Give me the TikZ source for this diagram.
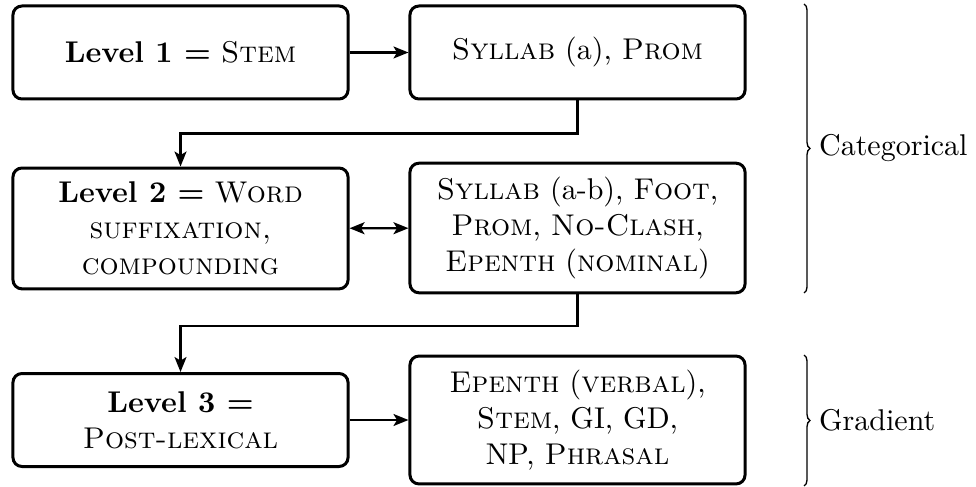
\documentclass[tikz,border=0pt]{standalone}
\usetikzlibrary{arrows.meta,decorations.pathreplacing}

\tikzset{
  levelbox/.style={draw, line width=1pt, rounded corners=3pt, align=center,
    minimum width=111.7pt, minimum height=31pt, inner xsep=4pt, inner ysep=4.6pt,
    font=\normalsize},
  tip/.style={},
  conn/.style={line width=0.7pt, -{Stealth[length=5pt,width=4pt,inset=1.2pt]}},
  dconn/.style={line width=0.7pt, {Stealth[length=5pt,width=4pt,inset=1.2pt]}-{Stealth[length=5pt,width=4pt,inset=1.2pt]}},
  grouping/.style={line width=0.45pt, decorate, decoration={brace, amplitude=2pt}},
  grouplabel/.style={anchor=west, inner sep=0pt, xshift=4.8pt}
}

\begin{document}
\begin{tikzpicture}
  \useasboundingbox (0,0) rectangle (325.33pt,-162.33pt);

  % level boxes (left) and the processes active at each level (right)
  \node[levelbox] (l1) at (60.17pt,-17.5pt)  {\textbf{Level 1 =} \textsc{Stem}};
  \node[levelbox] (p1) at (192.5pt,-17.5pt)  {\textsc{Syllab} (a), \textsc{Prom}};

  \node[levelbox] (l2) at (60.17pt,-76.15pt) {\textbf{Level 2 =} \textsc{Word}\\ \textsc{suffixation,}\\ \textsc{compounding}};
  \node[levelbox] (p2) at (192.5pt,-76.0pt)  {\textsc{Syllab} (a-b), \textsc{Foot},\\ \textsc{Prom}, \textsc{No-Clash},\\ \textsc{Epenth} (\textsc{nominal})};

  \node[levelbox] (l3) at (60.17pt,-140pt)   {\textbf{Level 3 =}\\ \textsc{Post-lexical}};
  \node[levelbox] (p3) at (192.5pt,-140pt)   {\textsc{Epenth} (\textsc{verbal}),\\ \textsc{Stem}, GI, GD,\\ NP, \textsc{Phrasal}};

  % connectors
  \draw[conn] (l1) -- (p1);
  \draw[conn] (p1.south) -- ++(0,-11pt) -| (l2.north);
  \draw[dconn] (l2) -- (p2);
  \draw[conn] (p2.south) -- ++(0,-10.7pt) -| (l3.north);
  \draw[conn] (l3) -- (p3);

  % grouping braces
  \coordinate (c1top) at (268pt,-1.33pt);
  \coordinate (c1bot) at (268pt,-97.67pt);
  \coordinate (c2top) at (268pt,-118.33pt);
  \coordinate (c2bot) at (268pt,-162pt);
  \draw[grouping] (c1top) -- (c1bot) node[midway, grouplabel] (cat) {Categorical};
  \draw[grouping] (c2top) -- (c2bot) node[midway, grouplabel] (grad) {Gradient};
\end{tikzpicture}
\end{document}
